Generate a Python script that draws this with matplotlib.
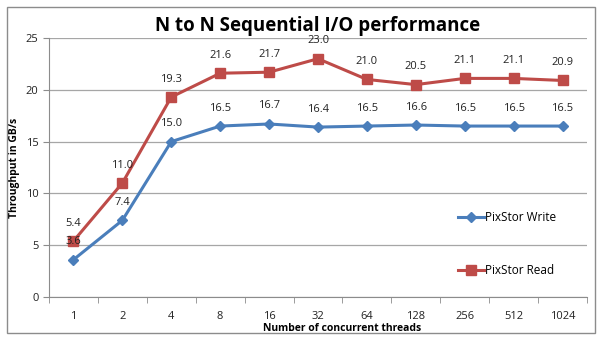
import numpy as np
import matplotlib.pyplot as plt
from matplotlib.patches import Rectangle

threads = ["1", "2", "4", "8", "16", "32", "64", "128", "256", "512", "1024"]
write_gbs = [3.6, 7.4, 15.0, 16.5, 16.7, 16.4, 16.5, 16.6, 16.5, 16.5, 16.5]
read_gbs = [5.4, 11.0, 19.3, 21.6, 21.7, 23.0, 21.0, 20.5, 21.1, 21.1, 20.9]

blue = "#4A7EBB"
red = "#BE4B48"
plt.rcParams['font.family'] = ['Open Sans', 'DejaVu Sans']

fig = plt.figure(figsize=(6.01, 3.40), dpi=100)
ax = fig.add_axes([49/601, 1 - 297/340, (587-49)/601, (297-38)/340])

# outer chart border
fig.patches.append(Rectangle((7/601, 7/340), 588/601, 326/340, transform=fig.transFigure,
                             fill=False, edgecolor="#8c8c8c", linewidth=1))

x = np.arange(len(threads))
ax.plot(x, write_gbs, color=blue, lw=2.2, marker="D", ms=5.5, label="PixStor Write")
ax.plot(x, read_gbs, color=red, lw=2.2, marker="s", ms=6.5, label="PixStor Read")

for xi, v in zip(x, write_gbs):
    ax.annotate(f"{v:.1f}", (xi, v), xytext=(0, 9), textcoords="offset points",
                ha="center", va="bottom", fontsize=8, color="#222222")
for xi, v in zip(x, read_gbs):
    ax.annotate(f"{v:.1f}", (xi, v), xytext=(0, 9), textcoords="offset points",
                ha="center", va="bottom", fontsize=8, color="#222222")

ax.set_xlim(-0.5, len(threads) - 0.5)
ax.set_ylim(0, 25)
ax.set_yticks([0, 5, 10, 15, 20, 25])
ax.set_xticks(x)
ax.set_xticklabels(threads)
ax.set_xticks(np.arange(-0.5, len(threads)), minor=True)
ax.tick_params(axis="x", which="major", length=0, labelsize=8, pad=10, colors="#222222")
ax.tick_params(axis="x", which="minor", length=4, color="#8c8c8c")
ax.tick_params(axis="y", length=4, color="#8c8c8c", labelsize=8, colors="#222222")
ax.grid(axis="y", color="#a6a6a6", lw=0.9)
ax.set_axisbelow(True)
for s in ["top", "right"]:
    ax.spines[s].set_visible(False)
for s in ["left", "bottom"]:
    ax.spines[s].set_color("#8c8c8c")

ax.set_title("N to N Sequential I/O performance", fontsize=13.5, fontweight="bold", pad=5)
ax.set_ylabel("Throughput in GB/s", fontsize=7.5, fontweight="bold", labelpad=4)
ax.set_xlabel("Number of concurrent threads", fontsize=7.5, fontweight="bold", labelpad=0)
ax.xaxis.set_label_coords(0.545, -0.1)

leg = ax.legend(loc="center left", bbox_to_anchor=(0.74, 0.205), frameon=False,
                fontsize=8.5, labelspacing=3.4, handlelength=2.2, handletextpad=0.1)

fig.savefig("out.png", dpi=100)
